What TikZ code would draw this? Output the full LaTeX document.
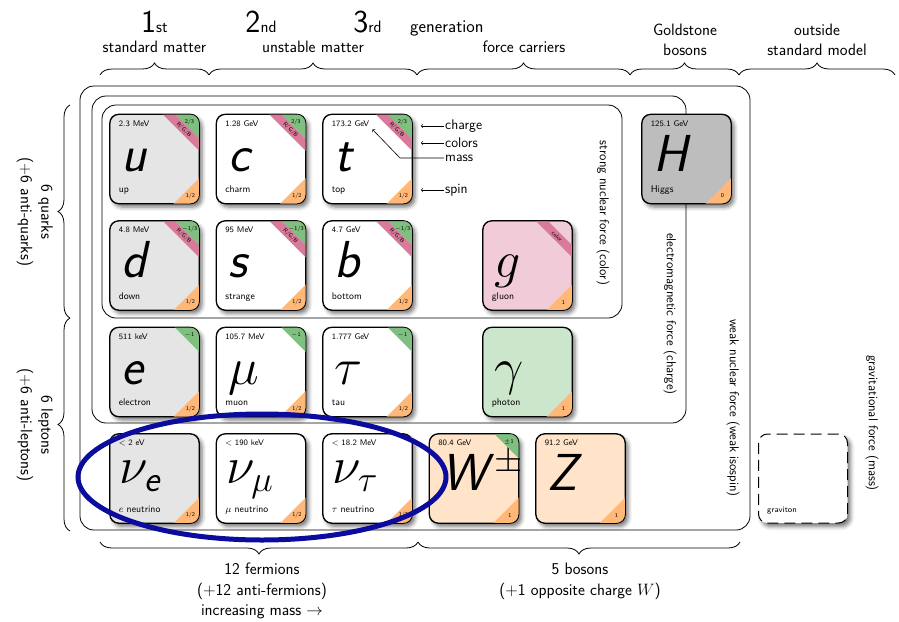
\RequirePackage{fix-cm}
\documentclass[tikz,border=0pt]{standalone}
\usepackage{amsmath}
\usepackage{fontspec}
\usepackage{tikz}
\usetikzlibrary{positioning,decorations.pathreplacing,shadows.blur}
\renewcommand{\familydefault}{\sfdefault}
\definecolor{quarkgray}{HTML}{E5E5E5}
\definecolor{higgsgray}{HTML}{BDBDBD}
\definecolor{chargegreen}{HTML}{7FBF7F}
\definecolor{colorpink}{HTML}{D97A9B}
\definecolor{spinorange}{HTML}{FFB877}
\definecolor{gluonpink}{HTML}{F2CBD8}
\definecolor{photongreen}{HTML}{CCE6CB}
\definecolor{bosonorange}{HTML}{FFE4CA}
\definecolor{ringblue}{HTML}{0B0B9E}

\begin{document}
\begin{tikzpicture}[x=1pt,y=-1pt,
  card/.style={draw,line width=0.8pt,rounded corners=9pt,minimum size=89pt,inner sep=0pt,
    blur shadow={shadow xshift=3pt,shadow yshift=-3.5pt,shadow blur radius=4pt,shadow opacity=55}},
  cardline/.style={line width=0.8pt,rounded corners=9pt},
  masstext/.style={font=\fontsize{8.2}{9}\selectfont,anchor=base west,inner sep=0pt},
  nametext/.style={font=\fontsize{9.8}{11}\selectfont,anchor=base west,inner sep=0pt},
  symtext/.style={font=\fontsize{52}{52}\selectfont,anchor=base west,inner sep=0pt,text height=0.55em,text depth=0pt},
  cornertext/.style={font=\fontsize{5.8}{6}\selectfont,inner sep=0pt},
  forcebox/.style={draw,line width=0.8pt,rounded corners=14pt},
  forcetext/.style={font=\fontsize{13}{15}\selectfont,rotate=-90},
  bracetext/.style={font=\fontsize{16.5}{20.5}\selectfont,align=center,inner sep=0pt},
  curly/.style={decorate,decoration={brace,amplitude=12pt},line width=0.8pt},
  legend/.style={font=\fontsize{14}{16}\selectfont,anchor=west,inner sep=1pt}]
  \useasboundingbox (0,0) rectangle (899,621);

  % forces
  \draw[forcebox] (80,86) rectangle (750,530);
  \draw[forcebox] (92,96) rectangle (686,423);
  \draw[forcebox] (102,105) rectangle (622,318);
  \node[forcetext] (strong) at (603,213) {strong nuclear force (color)};
  \node[forcetext] (em) at (670,314) {electromagnetic force (charge)};
  \node[forcetext] (weak) at (733,408) {weak nuclear force (weak isospin)};
  \node[forcetext] (grav) at (872,423) {gravitational force (mass)};

  % particles
  \foreach \n/\x/\y/\f/\mass/\sym/\lab in {
      u/154.5/159/quarkgray/{2.3 MeV}/{\textit{u}}/up,
      c/261/159/white/{1.28 GeV}/{\textit{c}}/charm,
      t/367.5/159/white/{173.2 GeV}/{\textit{t}}/top,
      d/154.5/265.5/quarkgray/{4.8 MeV}/{\textit{d}}/down,
      s/261/265.5/white/{95 MeV}/{\textit{s}}/strange,
      b/367.5/265.5/white/{4.7 GeV}/{\textit{b}}/bottom,
      g/527.5/265.5/gluonpink/{}/{$g$}/gluon,
      e/154.5/372/quarkgray/{511 keV}/{\textit{e}}/electron,
      mu/261/372/white/{105.7 MeV}/{$\mu$}/muon,
      tau/367.5/372/white/{1.777 GeV}/{$\tau$}/tau,
      gamma/527.5/372/photongreen/{}/{$\gamma$}/photon,
      W/474/478.5/bosonorange/{80.4 GeV}/{\textit{W}$^{\scriptstyle\pm}$}/{},
      Z/580.5/478.5/bosonorange/{91.2 GeV}/{\textit{Z}}/{},
      H/686.5/159/higgsgray/{125.1 GeV}/{\textit{H}}/Higgs}{
    \node[card,fill=\f] (\n) at (\x,\y) {};
    \node[masstext] (\n-m) at ([shift={(9,12)}]\n.north west) {\mass};
    \node[symtext] (\n-s) at ([shift={(12,57)}]\n.north west) {\sym};
    \node[nametext] (\n-l) at ([shift={(9,-11)}]\n.south west) {\lab};
  }
  \foreach \n/\x/\f/\mass/\sym/\lab in {
      nue/154.5/quarkgray/{$<$ 2 eV}/{$\nu_{\textit{e}}$}/{$e$ neutrino},
      numu/261/white/{$<$ 190 keV}/{$\nu_{\mu}$}/{$\mu$ neutrino},
      nutau/367.5/white/{$<$ 18.2 MeV}/{$\nu_{\tau}$}/{$\tau$ neutrino}}{
    \node[card,fill=\f] (\n) at (\x,478.5) {};
    \node[masstext] (\n-m) at ([shift={(9,12)}]\n.north west) {\mass};
    \node[symtext] (\n-s) at ([shift={(10,50)}]\n.north west) {\sym};
    \node[nametext] (\n-l) at ([shift={(9,-11)}]\n.south west) {\lab};
  }
  \node[card,fill=white,line width=1pt,dash pattern=on 11pt off 6pt] (G) at (803,478.5) {};
  \node[nametext,font=\fontsize{8.2}{9}\selectfont] (G-l) at ([shift={(9,-11)}]G.south west) {graviton};

  % corners: charge, colors, spin
  \foreach \n/\q in {u/{2/3},c/{2/3},t/{2/3},d/{$-$1/3},s/{$-$1/3},b/{$-$1/3},
                     e/{$-$1},mu/{$-$1},tau/{$-$1},W/{$\pm$1}}{
    \begin{scope}
      \clip[rounded corners=9pt] (\n.south west) rectangle (\n.north east);
      \fill[chargegreen] ([xshift=-25pt]\n.north east) -- (\n.north east) -- ([yshift=-25pt]\n.north east) -- cycle;
    \end{scope}
    \node[cornertext] (\n-q) at ([xshift=-10pt,yshift=-8pt]\n.north east) {\q};
  }
  \foreach \n/\k in {u/{R/G/B},c/{R/G/B},t/{R/G/B},d/{R/G/B},s/{R/G/B},b/{R/G/B},g/color}{
    \fill[colorpink] ([xshift=-37pt]\n.north east) -- ([xshift=-25pt]\n.north east)
      -- ([yshift=-25pt]\n.north east) -- ([yshift=-37pt]\n.north east) -- cycle;
    \node[cornertext,rotate=-45] (\n-k) at ([xshift=-15.5pt,yshift=-15.5pt]\n.north east) {\k};
  }
  \foreach \n/\p in {u/{1/2},c/{1/2},t/{1/2},d/{1/2},s/{1/2},b/{1/2},e/{1/2},mu/{1/2},tau/{1/2},
                     nue/{1/2},numu/{1/2},nutau/{1/2},g/1,gamma/1,W/1,Z/1,H/0}{
    \begin{scope}
      \clip[rounded corners=9pt] (\n.south west) rectangle (\n.north east);
      \fill[spinorange] ([xshift=-26pt]\n.south east) -- (\n.south east) -- ([yshift=26pt]\n.south east) -- cycle;
    \end{scope}
    \node[cornertext] (\n-p) at ([xshift=-9pt,yshift=8pt]\n.south east) {\p};
    \draw[cardline] (\n.south west) rectangle (\n.north east);
  }

  % legend
  \foreach \n/\y in {charge/126,colors/143,spin/190}{
    \node[legend] (\n) at (444,\y) {\n};
    \coordinate (\n tip) at (421,\y);
    \draw[->,line width=0.6pt] (\n.west) -- (\n tip);
  }
  \node[legend] (mass) at (444,158) {mass};
  \coordinate (mass bend) at (400,158);
  \draw[->,line width=0.6pt] (mass.west) -- (mass bend) -- ([shift={(3,3)}]t-m.south east);

  % generations
  \foreach \n/\x/\k in {1/154.5/st,2/261/nd,3/367.5/rd}
    \node[anchor=base,inner sep=0pt] (gen\n) at (\x,32) {\fontsize{32}{32}\selectfont\n\fontsize{16.5}{20}\selectfont\k};
  \node[anchor=base west,inner sep=0pt,font=\fontsize{18}{20}\selectfont] (generation) at (410,32) {generation};

  % groups
  \foreach \a/\b in {100/209,209/417,417/630,630/739,739/895}
    \draw[curly] (\a,75) -- (\b,75);
  \node[bracetext,anchor=base] (stdmatter) at (154.5,52) {standard matter};
  \node[bracetext,anchor=base] (unstable) at (313,52) {unstable matter};
  \node[bracetext,anchor=base] (carriers) at (524,52) {force carriers};
  \node[bracetext,anchor=south] (goldstone) at (685,56) {Goldstone\\bosons};
  \node[bracetext,anchor=south] (outside) at (817,56) {outside\\standard model};

  \draw[curly] (70,318) -- (70,105);
  \draw[curly] (70,531) -- (70,318);
  \node[bracetext,rotate=-90,anchor=north] (quarks) at (53,212) {6 quarks\\(+6 anti-quarks)};
  \node[bracetext,rotate=-90,anchor=north] (leptons) at (53,425) {6 leptons\\(+6 anti-leptons)};

  \draw[curly] (418,542) -- (100,542);
  \draw[curly] (740,542) -- (418,542);
  \node[bracetext,anchor=north] (fermions) at (262,563) {12 fermions\\($+$12 anti-fermions)\\increasing mass $\rightarrow$};
  \node[bracetext,anchor=north] (bosons) at (580,563) {5 bosons\\($+$1 opposite charge $W$)};

  \draw[ringblue,line width=5pt] (262,477) ellipse [x radius=184pt,y radius=63pt];
\end{tikzpicture}
\end{document}
